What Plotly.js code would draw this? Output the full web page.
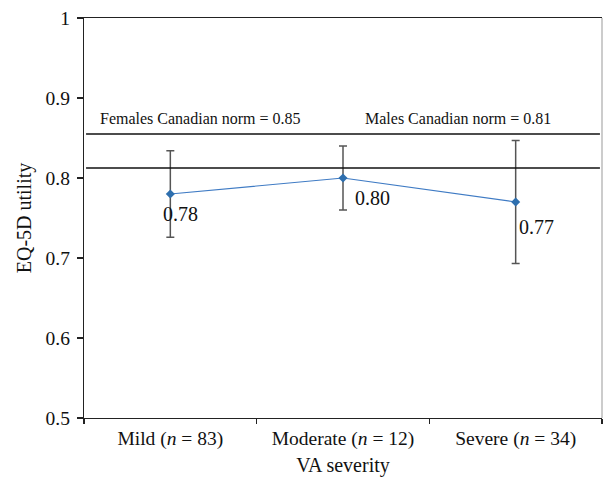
<!DOCTYPE html>
<html><head><meta charset="utf-8">
<script src="https://cdn.plot.ly/plotly-3.0.1.min.js"></script>
<style>body{margin:0;padding:0;background:#fff}#chart{width:608px;height:487px}</style>
</head><body><div id="chart"></div>
<script>
const categories = ['Mild (<i>n</i> = 83)', 'Moderate (<i>n</i> = 12)', 'Severe (<i>n</i> = 34)'];
const utility = [0.78, 0.80, 0.77];
const errUpper = [0.054, 0.040, 0.077];
const errLower = [0.054, 0.040, 0.077];
const valueLabels = ['0.78', '0.80', '0.77'];
const femaleNorm = 0.855;
const maleNorm = 0.8125;
const normLabels = ['Females Canadian norm = 0.85', 'Males Canadian norm = 0.81'];

const serif = '"Liberation Serif", "DejaVu Serif", serif';

const trace = {
  x: categories, y: utility, type: 'scatter', mode: 'lines+markers',
  line: {color: '#3f7bc4', width: 1.2},
  marker: {symbol: 'diamond', size: 7, color: '#2e6fae'},
  error_y: {type: 'data', symmetric: false, array: errUpper, arrayminus: errLower,
            color: '#555555', thickness: 1.5, width: 4},
  hoverinfo: 'skip', showlegend: false
};

const layout = {
  width: 608, height: 487,
  margin: {l: 84, r: 6, t: 18, b: 69},
  paper_bgcolor: '#fff', plot_bgcolor: '#fff',
  font: {family: serif, color: '#111'},
  showlegend: false,
  xaxis: {
    type: 'category', range: [-0.5, 2.5], tickson: 'boundaries',
    ticks: 'outside', ticklen: 5, tickcolor: '#222', tickwidth: 1.2,
    showline: true, linecolor: '#222', linewidth: 1.2, mirror: true,
    showgrid: false, zeroline: false, ticklabelstandoff: 2,
    tickfont: {family: serif, size: 19.5, color: '#111'},
    title: {text: 'VA severity', font: {family: serif, size: 20, color: '#111'}, standoff: 9}
  },
  yaxis: {
    range: [0.5, 1], dtick: 0.1, tick0: 0.5,
    ticks: 'outside', ticklen: 6, tickcolor: '#222', tickwidth: 1.2,
    showline: true, linecolor: '#222', linewidth: 1.2,
    showgrid: false, zeroline: false, ticklabelstandoff: 3,
    tickfont: {family: serif, size: 19.5, color: '#111'},
    title: {text: 'EQ-5D utility', font: {family: serif, size: 20, color: '#111'}, standoff: 8}
  },
  shapes: [
    {type: 'line', xref: 'paper', yref: 'y', x0: 0.004, x1: 0.996, y0: femaleNorm, y1: femaleNorm,
     line: {color: '#111', width: 1.3}},
    {type: 'line', xref: 'paper', yref: 'y', x0: 0.004, x1: 0.996, y0: maleNorm, y1: maleNorm,
     line: {color: '#111', width: 1.3}},
    {type: 'line', xref: 'paper', yref: 'paper', x0: 1, x1: 1, y0: 0, y1: 1,
     line: {color: '#999', width: 1}}
  ],
  annotations: [
    {xref: 'paper', yref: 'y', x: 0.027, y: femaleNorm, yshift: 16, xanchor: 'left', yanchor: 'middle',
     text: normLabels[0], showarrow: false, font: {family: serif, size: 16, color: '#111'}},
    {xref: 'paper', yref: 'y', x: 0.539, y: femaleNorm, yshift: 16, xanchor: 'left', yanchor: 'middle',
     text: normLabels[1], showarrow: false, font: {family: serif, size: 16, color: '#111'}},
    {xref: 'x', yref: 'y', x: categories[0], y: utility[0], xshift: -9, yshift: -20, xanchor: 'left', yanchor: 'middle',
     text: valueLabels[0], showarrow: false, font: {family: serif, size: 20, color: '#111'}},
    {xref: 'x', yref: 'y', x: categories[1], y: utility[1], xshift: 10, yshift: -20, xanchor: 'left', yanchor: 'middle',
     text: valueLabels[1], showarrow: false, font: {family: serif, size: 20, color: '#111'}},
    {xref: 'x', yref: 'y', x: categories[2], y: utility[2], xshift: 1, yshift: -25, xanchor: 'left', yanchor: 'middle',
     text: valueLabels[2], showarrow: false, font: {family: serif, size: 20, color: '#111'}}
  ]
};

Plotly.newPlot('chart', [trace], layout, {displayModeBar: false, staticPlot: true});
</script></body></html>
